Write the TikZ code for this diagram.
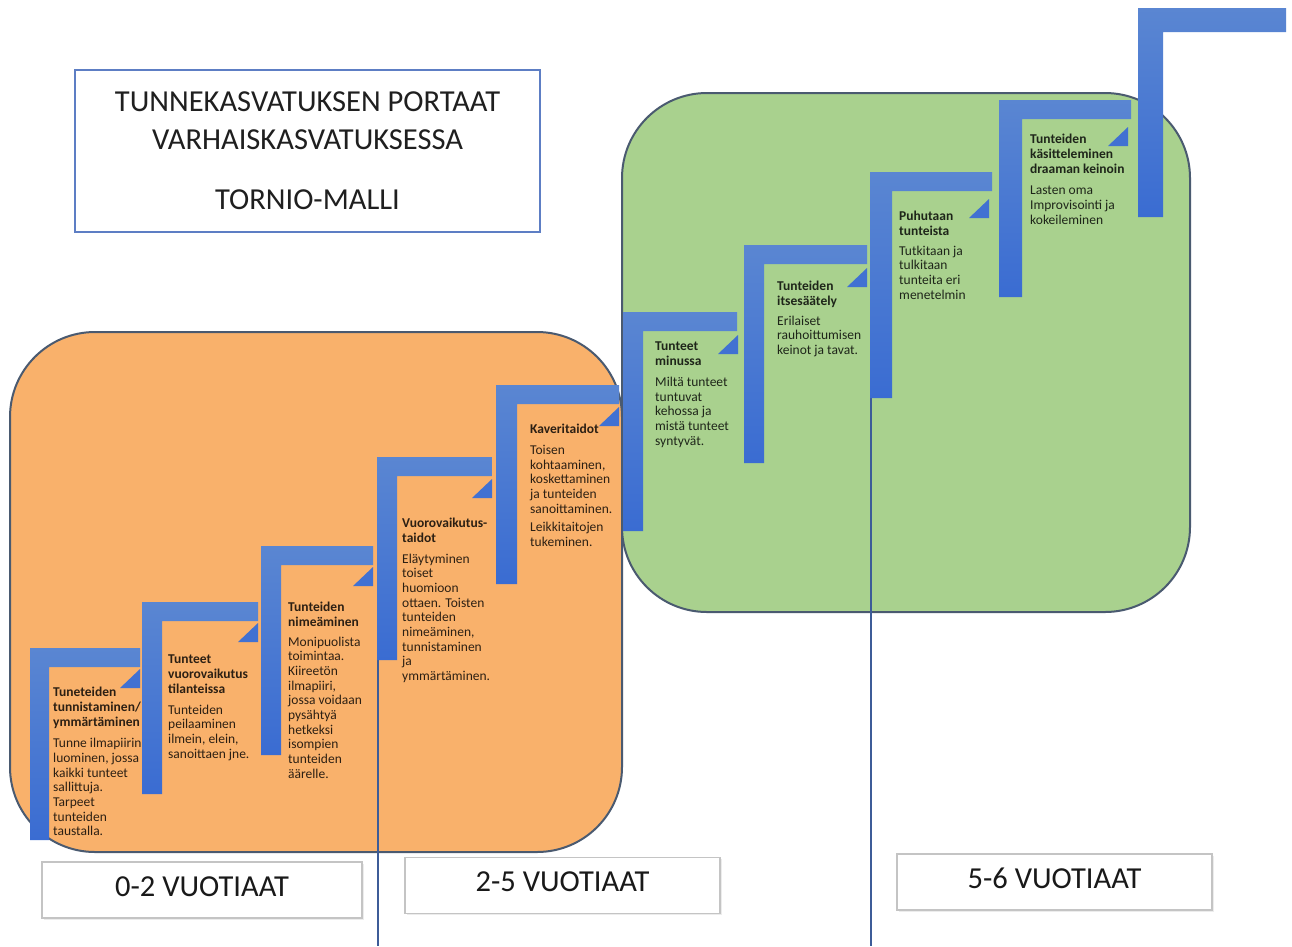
\documentclass[tikz,border=0pt]{standalone}
\usepackage{fontspec}
\setmainfont{Carlito}
\usetikzlibrary{shadows}
\definecolor{orangefill}{HTML}{F9B16B}
\definecolor{greenfill}{HTML}{A9D18E}
\definecolor{boxedge}{HTML}{4A5A70}
\definecolor{stepA}{HTML}{5A86D2}
\definecolor{stepB}{HTML}{3A6CD2}
\definecolor{titleedge}{HTML}{5D7EC4}
\definecolor{lineblue}{HTML}{3D5C98}
\definecolor{agegray}{HTML}{C4C4C4}
\newcommand\stairL[6]{\shade[stepshade] (#1,#2) -- (#3,#2) -- (#3,#2+#5) -- (#1+#6,#2+#5) -- (#1+#6,#4) -- (#1,#4) -- cycle;}
\newcommand\stairT[2]{\fill[stepB!80!stepA] (#1,#2) -- (#1,#2+19) -- (#1-20,#2+19) -- cycle;}
\begin{document}
\begin{tikzpicture}[x=1pt,y=-1pt,
  stepshade/.style={top color=stepA,bottom color=stepB},
  agebox/.style={draw=agegray,line width=1.5pt,fill=white,minimum width=#1,minimum height=56pt,
     font=\fontsize{30.5}{32}\selectfont,text=black!90,text depth=7pt,
     drop shadow={opacity=0.15,shadow xshift=1.5pt,shadow yshift=-1.5pt}},
  steptext/.style={anchor=north west,inner sep=0pt,align=left,font=\fontsize{13.5}{14.7}\selectfont,
     text=black,text opacity=0.82},
  bigbox/.style={draw=boxedge,line width=2pt,rounded corners=85pt},
  guide/.style={draw=lineblue,line width=1.6pt}]
\useasboundingbox (0,0) rectangle (1292,946);
\fill[white] (0,0) rectangle (1292,946);
% age areas
\path[bigbox,fill=orangefill] (10,332) rectangle (622,852);
\path[bigbox,fill=greenfill] (622,93) rectangle (1190,612);
% guide lines
\coordinate (g1top) at (378,458);
\coordinate (g1bot) at (378,946);
\coordinate (g2top) at (871,172);
\coordinate (g2bot) at (871,946);
\draw[guide] (g1top) -- (g1bot);
\draw[guide] (g2top) -- (g2bot);
% step 1
\stairL{30}{648}{140}{840}{19}{19}
\stairT{140}{669}
\node[steptext] (t1) at (53,687) {\textbf{Tuneteiden}\\\textbf{tunnistaminen/}\\\textbf{ymmärtäminen}\\[7pt]Tunne ilmapiirin\\luominen, jossa\\kaikki tunteet\\sallittuja.\\Tarpeet\\tunteiden\\taustalla.};
% step 2
\stairL{142}{602}{258}{794}{19}{20}
\stairT{258}{623}
\node[steptext] (t2) at (168,655) {\textbf{Tunteet}\\\textbf{vuorovaikutus}\\\textbf{tilanteissa}\\[6pt]Tunteiden\\peilaaminen\\ilmein, elein,\\sanoittaen jne.};
% step 3
\stairL{261}{546}{373}{755}{19}{20}
\stairT{373}{567}
\node[steptext] (t3) at (288,602) {\textbf{Tunteiden}\\\textbf{nimeäminen}\\[5pt]Monipuolista\\toimintaa.\\Kiireetön\\ilmapiiri,\\jossa voidaan\\pysähtyä\\hetkeksi\\isompien\\tunteiden\\äärelle.};
% step 4
\stairL{377}{457}{492}{660}{19}{20}
\stairT{492}{479}
\node[steptext] (t4) at (402,518) {\textbf{Vuorovaikutus-}\\\textbf{taidot}\\[6pt]Eläytyminen\\toiset\\huomioon\\ottaen. Toisten\\tunteiden\\nimeäminen,\\tunnistaminen\\ja\\ymmärtäminen.};
% step 5
\stairL{496}{385}{619}{584}{19}{21}
\stairT{619}{407}
\node[steptext] (t5) at (530,424) {\textbf{Kaveritaidot}\\[6pt]Toisen\\kohtaaminen,\\koskettaminen\\ja tunteiden\\sanoittaminen.\\[4pt]Leikkitaitojen\\tukeminen.};
% step 6
\stairL{623}{312}{737}{531}{19}{20}
\stairT{738}{335}
\node[steptext] (t6) at (655,342) {\textbf{Tunteet}\\\textbf{minussa}\\[6pt]Miltä tunteet\\tuntuvat\\kehossa ja\\mistä tunteet\\syntyvät.};
% step 7
\stairL{744}{245}{867}{463}{19}{20}
\stairT{867}{268}
\node[steptext] (t7) at (777,281) {\textbf{Tunteiden}\\\textbf{itsesäätely}\\[5pt]Erilaiset\\rauhoittumisen\\keinot ja tavat.};
% step 8
\stairL{870}{172}{992}{398}{19}{22}
\stairT{989}{199}
\node[steptext] (t8) at (899,211) {\textbf{Puhutaan}\\\textbf{tunteista}\\[5pt]Tutkitaan ja\\tulkitaan\\tunteita eri\\menetelmin};
% step 9
\stairL{999}{100}{1131}{297}{19}{23}
\stairT{1128}{127}
\node[steptext] (t9) at (1030,134) {\textbf{Tunteiden}\\\textbf{käsitteleminen}\\\textbf{draaman keinoin}\\[7pt]Lasten oma\\Improvisointi ja\\kokeileminen};
% step 10
\stairL{1138}{8}{1286}{217}{24}{25}
% title
\node[draw=titleedge,line width=2.2pt,minimum width=465pt,minimum height=162pt,align=center,
  font=\fontsize{30.5}{38}\selectfont,text=black!88] (title) at (307.5,151)
  {TUNNEKASVATUKSEN PORTAAT\\VARHAISKASVATUKSESSA\\[22pt]TORNIO-MALLI};
% age labels
\node[agebox=320pt] (a1) at (202,890) {0-2 VUOTIAAT};
\node[agebox=315pt] (a2) at (562.5,885.5) {2-5 VUOTIAAT};
\node[agebox=315pt] (a3) at (1054.5,882) {5-6 VUOTIAAT};
\end{tikzpicture}
\end{document}
